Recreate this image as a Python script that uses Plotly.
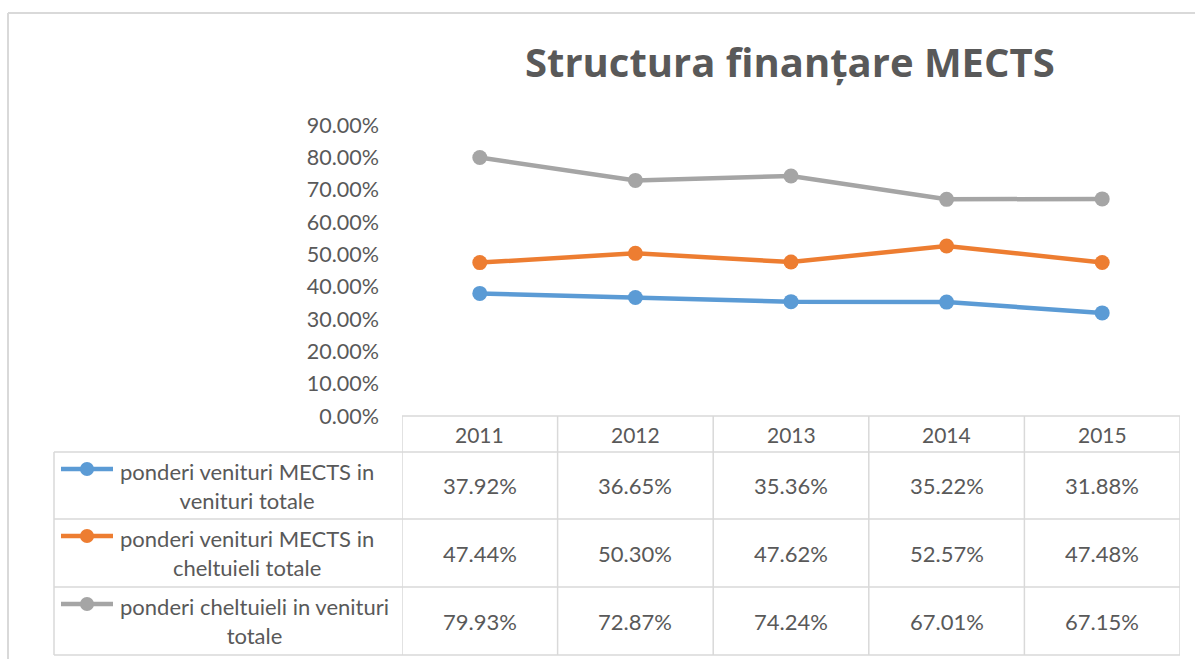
import plotly.graph_objects as go

years = ["2011", "2012", "2013", "2014", "2015"]
series_names = [
    "ponderi venituri MECTS in<br>venituri totale",
    "ponderi venituri MECTS in<br>cheltuieli totale",
    "ponderi cheltuieli in venituri<br>totale",
]
venituri_in_venituri = [0.3792, 0.3665, 0.3536, 0.3522, 0.3188]
venituri_in_cheltuieli = [0.4744, 0.5030, 0.4762, 0.5257, 0.4748]
cheltuieli_in_venituri = [0.7993, 0.7287, 0.7424, 0.6701, 0.6715]
series_values = [venituri_in_venituri, venituri_in_cheltuieli, cheltuieli_in_venituri]
colors = ["#5B9BD5", "#ED7D31", "#A5A5A5"]
title_text = "Structura finanțare MECTS"

W, H = 1195, 659
TXT = "#595959"
GRID = "#D9D9D9"
FONT = "Lato"
TITLE_FONT = "Open Sans"


def px(x):
    return x / W


def py(y):
    return 1 - y / H


x_idx = list(range(len(years)))

fig = go.Figure()
for name, vals, col in zip(series_names, series_values, colors):
    fig.add_trace(go.Scatter(
        x=x_idx, y=vals, mode="lines+markers", name=name.replace("<br>", " "),
        line=dict(color=col, width=4.5),
        marker=dict(color=col, size=15),
        showlegend=False, cliponaxis=False,
    ))

shapes = []
annotations = []

# outer chart border
shapes.append(dict(type="line", xref="paper", yref="paper", x0=px(8), x1=1, y0=py(13), y1=py(13),
                   line=dict(color=GRID, width=2)))
shapes.append(dict(type="line", xref="paper", yref="paper", x0=px(8), x1=px(8), y0=py(13), y1=0,
                   line=dict(color=GRID, width=2)))

# table geometry (pixels)
row_edges = [416, 452, 519, 587, 655]
tbl_left = 54
for i, yy in enumerate(row_edges):
    if i == 0:
        shapes.append(dict(type="line", xref="x", yref="paper", x0=-0.5, x1=len(years) - 0.5,
                           y0=py(yy), y1=py(yy), line=dict(color=GRID, width=1.5)))
    else:
        shapes.append(dict(type="line", xref="paper", yref="paper", x0=px(tbl_left), x1=px(1180),
                           y0=py(yy), y1=py(yy), line=dict(color=GRID, width=1.5)))
for k in range(len(years) + 1):
    shapes.append(dict(type="line", xref="x", yref="paper", x0=k - 0.5, x1=k - 0.5,
                       y0=py(row_edges[0]), y1=py(row_edges[-1]), line=dict(color=GRID, width=1.5)))
shapes.append(dict(type="line", xref="paper", yref="paper", x0=px(tbl_left), x1=px(tbl_left),
                   y0=py(row_edges[1]), y1=py(row_edges[-1]), line=dict(color=GRID, width=1.5)))

# header years
for k, yr in enumerate(years):
    annotations.append(dict(x=k, xref="x", y=py((row_edges[0] + row_edges[1]) / 2), yref="paper",
                            yanchor="middle", text=yr, showarrow=False,
                            font=dict(family=FONT, size=21, color=TXT)))

# data rows
for r, (name, vals, col) in enumerate(zip(series_names, series_values, colors)):
    top, bot = row_edges[r + 1], row_edges[r + 2]
    mid = (top + bot) / 2
    for k, v in enumerate(vals):
        annotations.append(dict(x=k, xref="x", y=py(mid), yref="paper", yanchor="middle",
                                text=f"{v * 100:.2f}%", showarrow=False,
                                font=dict(family=FONT, size=22, color=TXT)))
    annotations.append(dict(x=px(118), xref="paper", xanchor="left", y=py(mid), yref="paper",
                            yanchor="middle", text=name, align="center", showarrow=False,
                            font=dict(family=FONT, size=22, color=TXT)))
    ky = top + 17
    shapes.append(dict(type="line", xref="paper", yref="paper", x0=px(61), x1=px(113), y0=py(ky), y1=py(ky),
                       line=dict(color=col, width=4.5)))
    shapes.append(dict(type="circle", xref="paper", yref="paper", x0=px(80), x1=px(94), y0=py(ky - 7),
                       y1=py(ky + 7), fillcolor=col, line=dict(color=col, width=0)))

# title
annotations.append(dict(x=px(790), xref="paper", y=py(61), yref="paper", yanchor="middle",
                        text=f"<b>{title_text}</b>", showarrow=False,
                        font=dict(family=TITLE_FONT, size=40, color=TXT)))

fig.update_layout(
    width=W, height=H,
    margin=dict(l=0, r=0, t=0, b=0, autoexpand=False),
    paper_bgcolor="white", plot_bgcolor="white",
    xaxis=dict(domain=[px(402), px(1180)], range=[-0.5, len(years) - 0.5], showticklabels=False,
               showgrid=False, zeroline=False, showline=False, fixedrange=True, automargin=False),
    yaxis=dict(domain=[py(416), py(125)], range=[0, 0.9], dtick=0.1, tickformat=".2%",
               showgrid=False, zeroline=False, showline=False, ticks="", automargin=False,
               ticklabelstandoff=22, tickfont=dict(family=FONT, size=21.5, color=TXT)),
    shapes=shapes, annotations=annotations,
)

fig.write_html("out.html", config={"displayModeBar": False},
               post_script="document.body.style.margin='0';document.body.style.overflow='hidden';")
